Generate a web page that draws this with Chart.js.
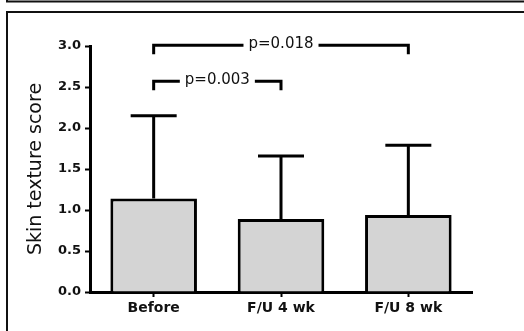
<!DOCTYPE html>
<html>
<head>
<meta charset="utf-8">
<script src="https://cdn.jsdelivr.net/npm/chart.js@4.4.1/dist/chart.umd.min.js"></script>
<style>
  html, body { margin: 0; padding: 0; background: #fff; }
  #contenedor { width: 524px; height: 331px; position: relative; }
</style>
</head>
<body>
<div id="contenedor"><canvas id="plot1"></canvas></div>
<script>
// Datos
let categorias = ['Before', 'F/U 4 wk', 'F/U 8 wk'];
let medias = [1.14, 0.89, 0.94];
let desviaciones = [1.01, 0.77, 0.85];
let ticksY = [0, 0.5, 1.0, 1.5, 2.0, 2.5, 3.0];

// Comparaciones (corchetes con valor p)
let pTextos = ['p=0.018', 'p=0.003'];
let pDesde = [0, 0];
let pHasta = [2, 1];
let pNivel = [3.01, 2.57];
let pBajada = [0.11, 0.11];

let fuente = 'DejaVu Sans';

// Marco de la figura (borde del panel)
let marco = {
  id: 'marco',
  beforeDraw: (chart) => {
    let ctx = chart.ctx;
    ctx.save();
    ctx.fillStyle = '#fff';
    ctx.fillRect(0, 0, chart.width, chart.height);
    ctx.strokeStyle = '#111';
    ctx.lineWidth = 2;
    ctx.beginPath();
    ctx.moveTo(7, 0);
    ctx.lineTo(7, 1.5);
    ctx.lineTo(chart.width, 1.5);
    ctx.moveTo(chart.width, 12);
    ctx.lineTo(7, 12);
    ctx.lineTo(7, chart.height);
    ctx.stroke();
    ctx.restore();
  }
};

// Barras de error (solo hacia arriba)
let barrasError = {
  id: 'barrasError',
  afterDatasetsDraw: (chart) => {
    let ctx = chart.ctx;
    let x = chart.scales.x;
    let y = chart.scales.y;
    ctx.save();
    ctx.strokeStyle = '#000';
    ctx.lineWidth = 3;
    for (let i = 0; i < medias.length; i++) {
      let px = x.getPixelForValue(i);
      let y0 = y.getPixelForValue(medias[i]);
      let y1 = y.getPixelForValue(medias[i] + desviaciones[i]);
      ctx.beginPath();
      ctx.moveTo(px, y0);
      ctx.lineTo(px, y1);
      ctx.moveTo(px - 23, y1);
      ctx.lineTo(px + 23, y1);
      ctx.stroke();
    }
    ctx.restore();
  }
};

// Corchetes de significancia
let corchetes = {
  id: 'corchetes',
  afterDraw: (chart) => {
    let ctx = chart.ctx;
    let x = chart.scales.x;
    let y = chart.scales.y;
    ctx.save();
    ctx.font = '15px "' + fuente + '"';
    ctx.fillStyle = '#111';
    ctx.strokeStyle = '#000';
    ctx.lineWidth = 3;
    ctx.textAlign = 'center';
    ctx.textBaseline = 'middle';
    for (let i = 0; i < pTextos.length; i++) {
      let xa = x.getPixelForValue(pDesde[i]);
      let xb = x.getPixelForValue(pHasta[i]);
      let yl = y.getPixelForValue(pNivel[i]);
      let yb = y.getPixelForValue(pNivel[i] - pBajada[i]);
      let xm = (xa + xb) / 2;
      let medio = ctx.measureText(pTextos[i]).width / 2 + 5;
      ctx.beginPath();
      ctx.moveTo(xa, yb);
      ctx.lineTo(xa, yl);
      ctx.lineTo(xm - medio, yl);
      ctx.moveTo(xm + medio, yl);
      ctx.lineTo(xb, yl);
      ctx.lineTo(xb, yb);
      ctx.stroke();
      ctx.fillText(pTextos[i], xm, yl - 1);
    }
    ctx.restore();
  }
};

let config = {
  type: 'bar',
  data: {
    labels: categorias,
    datasets: [
      {
        label: 'Skin texture score',
        data: medias,
        backgroundColor: '#d4d4d4',
        borderColor: '#000',
        borderWidth: 3,
        borderSkipped: 'bottom',
        categoryPercentage: 1,
        barPercentage: 0.68
      }
    ]
  },
  options: {
    responsive: true,
    maintainAspectRatio: false,
    animation: false,
    devicePixelRatio: 1,
    layout: { padding: { left: 0, top: 46, right: 52, bottom: 0 } },
    plugins: {
      legend: { display: false },
      tooltip: { enabled: false }
    },
    scales: {
      x: {
        offset: true,
        grid: {
          offset: false,
          drawOnChartArea: false,
          drawTicks: true,
          tickLength: 5,
          tickWidth: 2,
          tickColor: '#000'
        },
        border: { display: true, color: '#000', width: 3 },
        ticks: {
          color: '#111',
          padding: 3,
          font: { family: fuente, size: 14, weight: 'bold' }
        },
        afterFit: (scale) => { scale.height = 39; }
      },
      y: {
        min: 0,
        max: 3,
        afterBuildTicks: (scale) => { scale.ticks = ticksY.map(v => ({ value: v })); },
        grid: {
          drawOnChartArea: false,
          drawTicks: true,
          tickLength: 5,
          tickWidth: 2,
          tickColor: '#000'
        },
        border: { display: true, color: '#000', width: 3 },
        ticks: {
          color: '#111',
          padding: 4,
          font: { family: fuente, size: 13, weight: 'bold' },
          callback: (v) => Number(v).toFixed(1)
        },
        title: {
          display: true,
          text: 'Skin texture score',
          color: '#111',
          padding: { top: 25, bottom: 0 },
          font: { family: fuente, size: 19, weight: 'normal' }
        },
        afterFit: (scale) => { scale.width = 90; }
      }
    }
  },
  plugins: [marco, barrasError, corchetes]
};

let plotRef = document.getElementById('plot1');
let chart1 = new Chart(plotRef, config);
</script>
</body>
</html>
